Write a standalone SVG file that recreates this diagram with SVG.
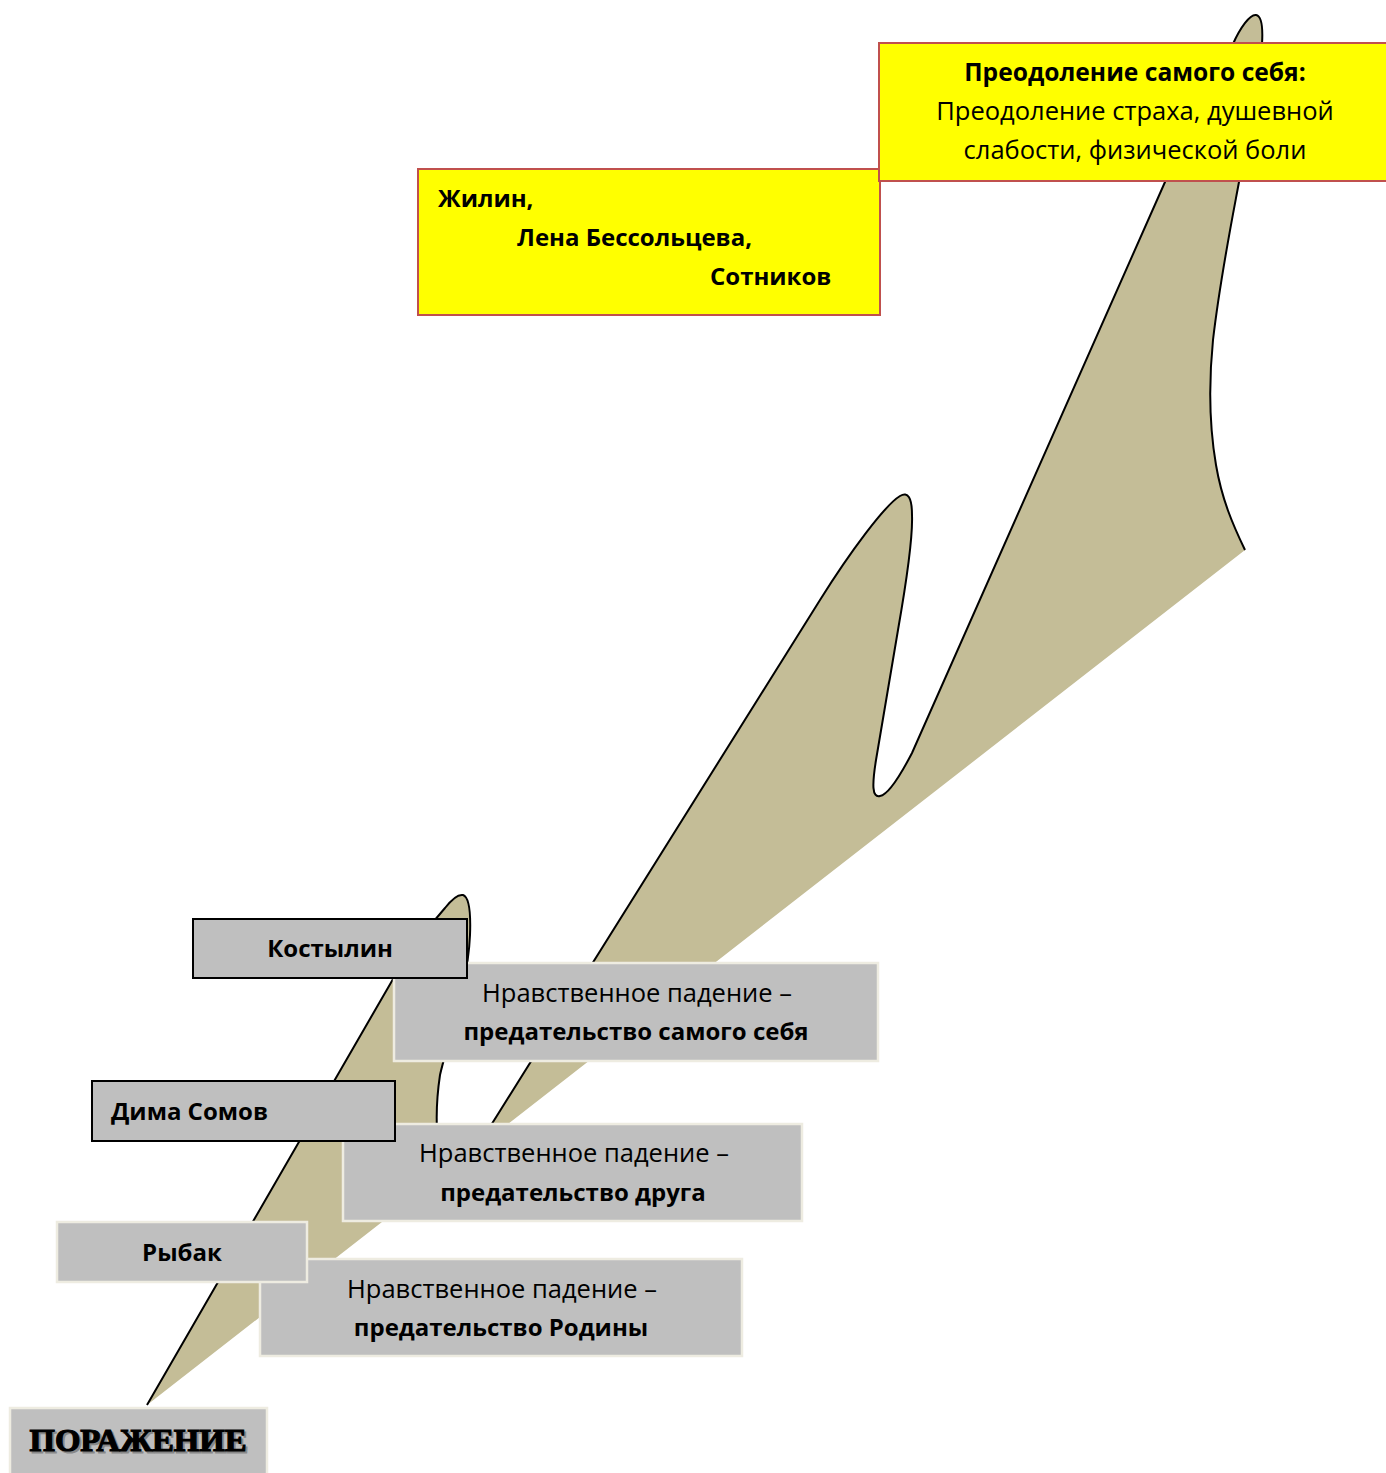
<svg xmlns="http://www.w3.org/2000/svg" width="1386" height="1473" viewBox="0 0 1386 1473">
<style>
.yb{fill:#FFFF00;stroke:#C0504D;stroke-width:2}
.gk{fill:#BFBFBF;stroke:#000;stroke-width:2}
.gl{fill:#BFBFBF;stroke:#EEECE1;stroke-width:2.5}
text{font-family:"Open Sans","DejaVu Sans",sans-serif;font-size:25.5px;fill:#000}
.b{font-weight:bold;font-size:24px}
.c{text-anchor:middle}
</style>
<rect width="1386" height="1473" fill="#fff"/>
<g id="shape">
<path d="M147,1405 L400,967 C415,945 430,925 445,908 C452,899 458,894 463,895 C469,897 471,910 470,935 C468,985 448,1040 440,1075 C437,1095 436,1110 437,1130 L488,1130 L820,600 C850,552 885,505 900,496 C908,491 912,498 912,515 C913,540 905,590 898,630 L876,760 C872,785 872,798 880,796 C887,795 899,778 912,753 L1165,182 L1233,44 C1240,28 1250,14 1256,15 C1262,16 1263,28 1262,44 L1239,182 C1230,230 1220,280 1213,340 C1208,390 1210,430 1216,465 C1222,500 1233,525 1245,550" fill="#C4BD97" stroke="#000" stroke-width="2"/>
</g>
<g id="connectors"></g>
<g id="n-zhilin">
<rect class="yb" x="418" y="169" width="462" height="146"/>
<text class="b" x="438" y="207">Жилин,</text>
<text class="b" x="517" y="246">Лена Бессольцева,</text>
<text class="b" x="710" y="285">Сотников</text>
</g>
<g id="n-overcome">
<rect class="yb" x="879" y="43" width="512" height="138"/>
<text class="b c" x="1135" y="81" style="font-size:24.6px">Преодоление самого себя:</text>
<text class="c" x="1135" y="120">Преодоление страха, душевной</text>
<text class="c" x="1135" y="159">слабости, физической боли</text>
</g>
<g id="n-fall-self">
<rect class="gl" x="394" y="963" width="484" height="98"/>
<text class="c" x="637" y="1002">Нравственное падение –</text>
<text class="b c" x="636" y="1040">предательство самого себя</text>
</g>
<g id="n-kostylin">
<rect class="gk" x="193" y="919" width="274" height="59"/>
<text class="b c" x="330" y="957">Костылин</text>
</g>
<g id="n-fall-friend">
<rect class="gl" x="343" y="1124" width="459" height="97"/>
<text class="c" x="574" y="1162">Нравственное падение –</text>
<text class="b c" x="573" y="1201">предательство друга</text>
</g>
<g id="n-dima">
<rect class="gk" x="92" y="1081" width="303" height="60"/>
<text class="b" x="111" y="1120">Дима Сомов</text>
</g>
<g id="n-fall-homeland">
<rect class="gl" x="260" y="1259" width="482" height="97"/>
<text class="c" x="502" y="1298">Нравственное падение –</text>
<text class="b c" x="501" y="1336">предательство Родины</text>
</g>
<g id="n-rybak">
<rect class="gl" x="57" y="1222" width="250" height="60"/>
<text class="b c" x="182" y="1261">Рыбак</text>
</g>
<g id="n-defeat">
<rect class="gl" x="10" y="1408" width="257" height="70"/>
<text x="140" y="1453" text-anchor="middle" textLength="217" lengthAdjust="spacingAndGlyphs" style="font-family:'Liberation Serif',serif;font-weight:bold;font-size:31px;fill:#888;stroke:#888;stroke-width:1">ПОРАЖЕНИЕ</text>
<text x="138" y="1451" text-anchor="middle" textLength="217" lengthAdjust="spacingAndGlyphs" style="font-family:'Liberation Serif',serif;font-weight:bold;font-size:31px;fill:#000;stroke:#000;stroke-width:1.2">ПОРАЖЕНИЕ</text>
</g>
</svg>
